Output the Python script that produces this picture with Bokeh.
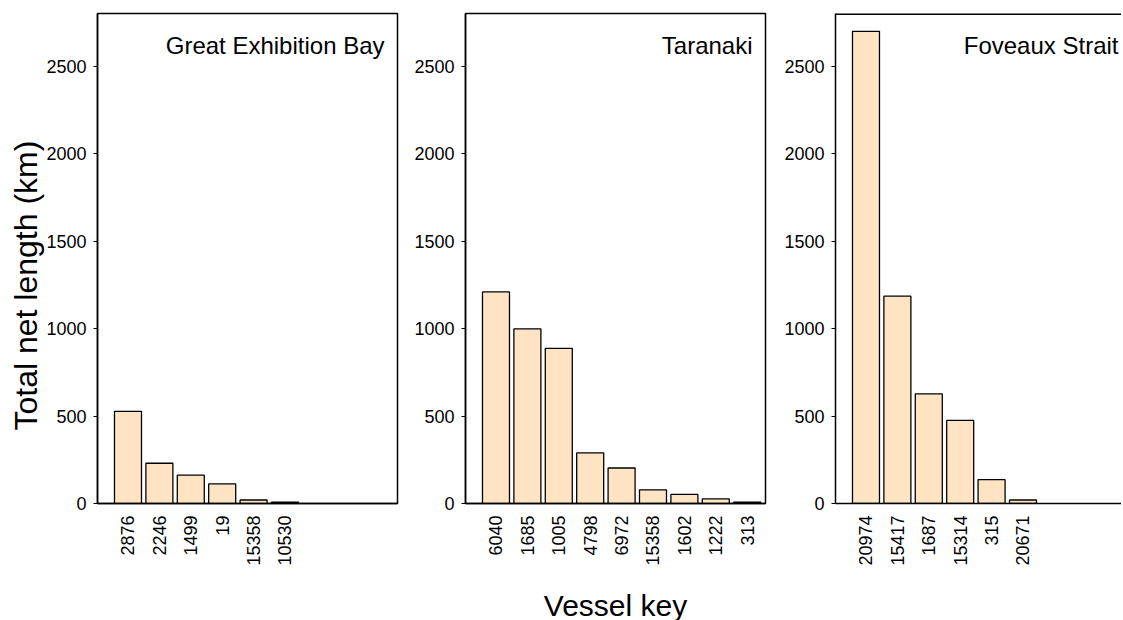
import math
from bokeh.plotting import figure
from bokeh.models import Range1d, FixedTicker, Label, Span, Title
from bokeh.layouts import row
from bokeh.embed import file_html
from bokeh.resources import INLINE

# ---- data ----
regions = ["Great Exhibition Bay", "Taranaki", "Foveaux Strait"]

geb_keys = ["2876", "2246", "1499", "19", "15358", "10530"]
geb_vals = [527, 230, 162, 112, 20, 8]

tar_keys = ["6040", "1685", "1005", "4798", "6972", "15358", "1602", "1222", "313"]
tar_vals = [1209, 998, 887, 289, 203, 78, 52, 27, 8]

fov_keys = ["20974", "15417", "1687", "15314", "315", "20671"]
fov_vals = [2698, 1185, 626, 475, 136, 20]

y_ticks = [0, 500, 1000, 1500, 2000, 2500]
y_label = "Total net length (km)"
x_label = "Vessel key"

# ---- layout constants ----
FONT = "Liberation Sans"
FILL = "#FFE4C4"
FRAME_H = 490
Y_TOP = 2800
PPU = 31.4              # pixels per bar slot
X0 = 0.029
BAR_W = 0.86


def make_panel(keys, vals, title, frame_w, left_b, right_b, full_box=True,
               title_off=-13):
    x_end = X0 + frame_w / PPU
    xs = list(range(1, len(keys) + 1))
    p = figure(frame_width=frame_w, frame_height=FRAME_H,
               x_range=Range1d(X0, x_end), y_range=Range1d(0, Y_TOP),
               output_backend="svg", toolbar_location=None,
               min_border_left=left_b, min_border_right=right_b,
               min_border_top=13, min_border_bottom=0)
    p.vbar(x=xs, top=vals, width=BAR_W, fill_color=FILL,
           line_color="black", line_width=1.3)
    p.xgrid.visible = False
    p.ygrid.visible = False
    p.background_fill_color = "white"
    p.border_fill_color = "white"
    if full_box:
        p.outline_line_color = "black"
        p.outline_line_width = 1.5
        p.outline_line_alpha = 1
    else:
        p.outline_line_color = None
        p.add_layout(Span(location=Y_TOP, dimension="width",
                          line_color="black", line_width=3))

    ya = p.yaxis[0]
    ya.ticker = FixedTicker(ticks=y_ticks)
    ya.minor_tick_line_color = None
    ya.major_tick_in = 0
    ya.major_tick_out = 4
    ya.major_tick_line_color = "black"
    ya.major_tick_line_width = 1.2
    ya.axis_line_color = "black"
    ya.axis_line_width = 1.5
    ya.major_label_standoff = 7
    ya.major_label_text_font = FONT
    ya.major_label_text_font_size = "18px"
    ya.major_label_text_color = "black"

    xa = p.xaxis[0]
    xa.ticker = FixedTicker(ticks=xs)
    xa.major_label_overrides = {i: k for i, k in zip(xs, keys)}
    xa.minor_tick_line_color = None
    xa.major_tick_in = 0
    xa.major_tick_out = 0
    xa.axis_line_color = "black"
    xa.axis_line_width = 1.5
    xa.major_label_orientation = math.pi / 2
    xa.major_label_standoff = 12
    xa.major_label_text_font = FONT
    xa.major_label_text_font_size = "18px"
    xa.major_label_text_color = "black"

    p.add_layout(Label(x=x_end, y=Y_TOP, x_offset=title_off, y_offset=-32,
                       text=title, text_align="right",
                       text_baseline="alphabetic", text_font=FONT,
                       text_font_size="24px", text_color="black"))
    return p


p1 = make_panel(geb_keys, geb_vals, regions[0], 300, 97, 14)
p2 = make_panel(tar_keys, tar_vals, regions[1], 300, 52, 16)
p3 = make_panel(fov_keys, fov_vals, regions[2], 286, 52, 0, full_box=False,
                title_off=-3)

# y axis title (left of panel 1)
p1.add_layout(Title(text=y_label, align="left", offset=73, standoff=0,
                    text_font=FONT, text_font_size="32px",
                    text_font_style="normal", text_color="black"), "left")

# x axis title (below panel 2)
xa2 = p2.xaxis[0]
xa2.axis_label = x_label
xa2.axis_label_standoff = 20
xa2.axis_label_text_font = FONT
xa2.axis_label_text_font_size = "30px"
xa2.axis_label_text_font_style = "normal"
xa2.axis_label_text_color = "black"

layout = row(p1, p2, p3)
open("out.html", "w").write(file_html(layout, INLINE))
